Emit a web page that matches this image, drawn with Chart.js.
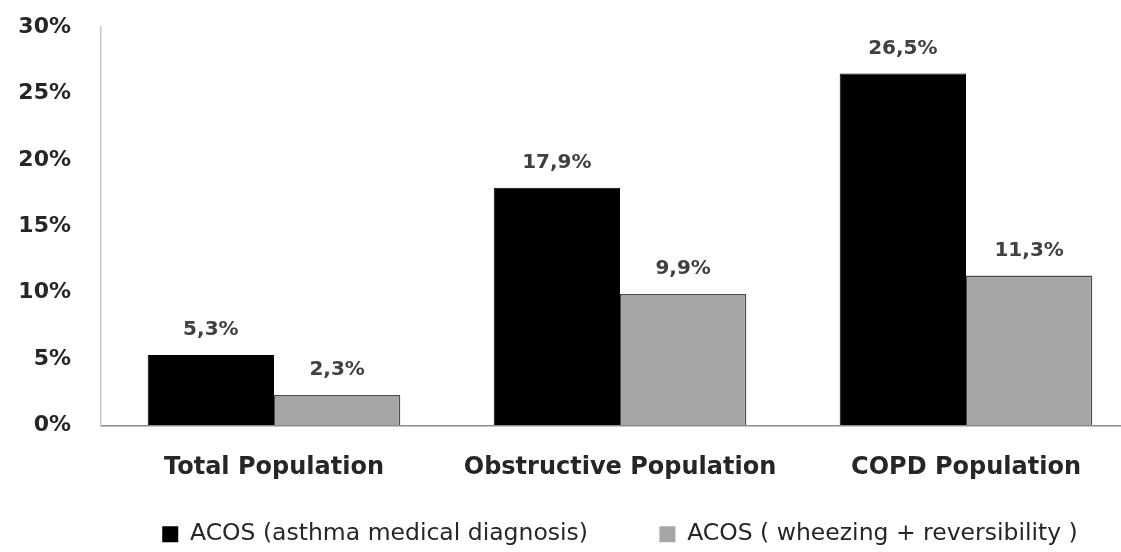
<!DOCTYPE html>
<html>
<head>
<meta charset="utf-8">
<script src="https://cdn.jsdelivr.net/npm/chart.js@4/dist/chart.umd.min.js"></script>
<style>
  html, body { margin: 0; padding: 0; background: #fff; overflow: hidden; }
  #wrap { position: relative; width: 1139px; height: 552px; }
</style>
</head>
<body>
<div id="wrap"><canvas id="chart"></canvas></div>
<script>
// values (percent)
const categories = ['Total Population', 'Obstructive Population', 'COPD Population'];
const seriesNames = ['ACOS (asthma medical diagnosis)', 'ACOS ( wheezing + reversibility )'];
const asthmaDiagnosis = [5.3, 17.9, 26.5];
const wheezingReversibility = [2.3, 9.9, 11.3];
const yTicks = [0, 5, 10, 15, 20, 25, 30];

const FONT = "'DejaVu Sans', sans-serif";
const fmt = v => v.toFixed(1).replace('.', ',') + '%';

// labels on top of the bars
const barLabels = {
  id: 'barLabels',
  afterDatasetsDraw(chart) {
    const ctx = chart.ctx;
    ctx.save();
    ctx.font = 'bold 20px ' + FONT;
    ctx.fillStyle = '#404040';
    ctx.textAlign = 'center';
    ctx.textBaseline = 'middle';
    chart.data.datasets.forEach((ds, i) => {
      chart.getDatasetMeta(i).data.forEach((bar, j) => {
        ctx.fillText(fmt(ds.data[j]), bar.x, bar.y - 25);
      });
    });
    ctx.restore();
  }
};

new Chart(document.getElementById('chart').getContext('2d'), {
  type: 'bar',
  data: {
    labels: categories,
    datasets: [
      {
        label: seriesNames[0],
        data: asthmaDiagnosis,
        backgroundColor: '#000000',
        borderColor: '#000000',
        borderWidth: 1
      },
      {
        label: seriesNames[1],
        data: wheezingReversibility,
        backgroundColor: '#a6a6a6',
        borderColor: '#4d4d4d',
        borderWidth: 1.5
      }
    ]
  },
  options: {
    responsive: true,
    maintainAspectRatio: false,
    animation: false,
    layout: { padding: { top: 27, left: 0, right: 0, bottom: -4 } },
    datasets: { bar: { categoryPercentage: 0.73, barPercentage: 1 } },
    scales: {
      x: {
        grid: { display: false },
        border: { display: true, color: '#8c8c8c', width: 1.5 },
        ticks: { color: '#262626', font: { family: FONT, size: 24, weight: 'bold' }, padding: 20, maxRotation: 0 },
        afterFit: s => { s.height = 89; }
      },
      y: {
        min: 0,
        max: 30,
        afterBuildTicks: s => { s.ticks = yTicks.map(v => ({ value: v })); },
        grid: { display: true, drawOnChartArea: false, drawTicks: true, tickLength: 28, color: 'rgba(0,0,0,0)' },
        border: { display: true, color: '#c8c8c8', width: 1.5 },
        ticks: {
          color: '#262626',
          font: { family: FONT, size: 22, weight: 'bold' },
          padding: 2,
          callback: v => v + '%'
        },
        afterFit: s => { s.width = 101; }
      }
    },
    plugins: {
      tooltip: { enabled: false },
      legend: {
        position: 'bottom',
        fullSize: false,
        labels: {
          color: '#262626',
          font: { family: FONT, size: 23.5 },
          boxWidth: 16,
          boxHeight: 16,
          padding: 8,
          generateLabels(chart) {
            const items = Chart.defaults.plugins.legend.labels.generateLabels(chart);
            items.forEach((it, i) => {
              it.lineWidth = 0;
              if (i < items.length - 1) it.text += '\u2002\u2002\u2002\u2002\u2002\u2009';
            });
            return items;
          }
        }
      }
    }
  },
  plugins: [barLabels]
});
</script>
</body>
</html>
